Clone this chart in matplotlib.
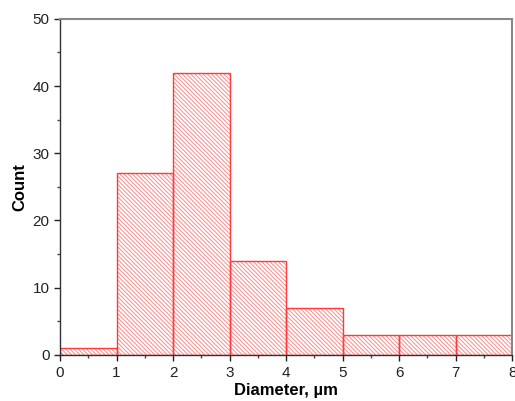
import numpy as np
import matplotlib
matplotlib.use("Agg")
import matplotlib.pyplot as plt
from matplotlib.ticker import MultipleLocator

plt.rcParams['font.family'] = ['Liberation Sans', 'DejaVu Sans']
plt.rcParams['hatch.linewidth'] = 0.7

# particle size histogram
bin_edges = [0, 1, 2, 3, 4, 5, 6, 7, 8]
counts = [1, 27, 42, 14, 7, 3, 3, 3]
widths = np.diff(bin_edges)

fig = plt.figure(figsize=(5.15, 4.01), dpi=100)
ax = fig.add_axes([0.1165, 0.115, 0.878, 0.838])

# hatch takes the edge colour, so draw the light hatch first and the outline on top
ax.bar(bin_edges[:-1], counts, width=widths, align='edge',
       facecolor='white', edgecolor='#ff8a8a', linewidth=0,
       hatch='\\\\\\\\\\\\\\\\')
ax.bar(bin_edges[:-1], counts, width=widths, align='edge',
       fill=False, edgecolor='#ff3a3a', linewidth=1.0)

ax.set_xlim(0, 8)
ax.set_ylim(0, 50)
ax.xaxis.set_major_locator(MultipleLocator(1))
ax.xaxis.set_minor_locator(MultipleLocator(0.5))
ax.yaxis.set_major_locator(MultipleLocator(10))
ax.yaxis.set_minor_locator(MultipleLocator(5))
ax.tick_params(which='major', direction='out', length=4, width=1, labelsize=11, colors='#222222')
ax.tick_params(which='minor', direction='out', length=2, width=1, colors='#444444')
ax.tick_params(axis='x', pad=4)

for side in ['left', 'bottom']:
    ax.spines[side].set_color('#333333')
    ax.spines[side].set_linewidth(1.0)
for side in ['top', 'right']:
    ax.spines[side].set_color('#888888')
    ax.spines[side].set_linewidth(1.5)

ax.set_xlabel('Diameter, µm', fontsize=12, fontweight='bold', labelpad=2)
ax.set_ylabel('Count', fontsize=12, fontweight='bold', labelpad=4)

fig.savefig('out.png', dpi=100)
